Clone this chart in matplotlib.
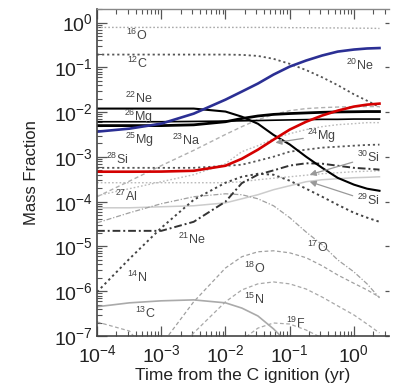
import matplotlib
matplotlib.use('Agg')
import matplotlib.pyplot as plt
from matplotlib.ticker import LogLocator, NullFormatter

plt.rcParams['font.family'] = ['Liberation Sans', 'DejaVu Sans']
plt.rcParams['mathtext.fontset'] = 'custom'
plt.rcParams['mathtext.rm'] = 'Liberation Sans'
plt.rcParams['mathtext.it'] = 'Liberation Sans:italic'
plt.rcParams['mathtext.bf'] = 'Liberation Sans:bold'

# time grid (yr) shared by most species
t = [1e-4, 3.2e-4, 1e-3, 3.2e-3, 0.01, 0.018, 0.032, 0.056, 0.1, 0.18, 0.32, 0.56, 1.0, 1.6, 2.5]

o16 = [0.78, 0.78, 0.78, 0.78, 0.78, 0.78, 0.78, 0.78, 0.77, 0.77, 0.76, 0.76, 0.75, 0.75, 0.74]
c12 = [0.193, 0.193, 0.193, 0.193, 0.193, 0.19, 0.18, 0.155, 0.12, 0.087, 0.06, 0.04, 0.025, 0.018, 0.013]
ne20 = [0.00366, 0.00428, 0.00553, 0.00925, 0.019, 0.0288, 0.0435, 0.069, 0.104, 0.142, 0.184, 0.225, 0.25, 0.264, 0.27]
ne22 = [0.012, 0.012, 0.012, 0.012, 0.0103, 0.0079, 0.0055, 0.0031, 0.0019, 0.00101, 5.7e-4, 3.4e-4, 2.4e-4, 1.95e-4, 1.75e-4]
mg26 = [0.0061, 0.0061, 0.0061, 0.0062, 0.0063, 0.0064, 0.0065, 0.0066, 0.0067, 0.0068, 0.0069, 0.0069, 0.007, 0.007, 0.007]
mg25 = [0.005, 0.005, 0.005, 0.0052, 0.0061, 0.0072, 0.0082, 0.0089, 0.0093, 0.0096, 0.0099, 0.0101, 0.0102, 0.0103, 0.0103]
mg24 = [4.67e-4, 4.67e-4, 4.7e-4, 4.9e-4, 6.35e-4, 9.1e-4, 1.45e-3, 2.43e-3, 4.07e-3, 6.1e-3, 8.4e-3, 0.0108, 0.0133, 0.0147, 0.0155]
si28 = [5.7e-4, 5.7e-4, 5.7e-4, 5.7e-4, 6.3e-4, 6.7e-4, 8.2e-4, 1.01e-3, 1.31e-3, 1.45e-3, 1.61e-3, 1.69e-3, 1.78e-3, 1.85e-3, 1.88e-3]
na23 = [1.29e-4, 2.88e-4, 6.38e-4, 1.4e-3, 3.17e-3, 4.74e-3, 6.8e-3, 8.8e-3, 0.0108, 0.012, 0.0126, 0.013, 0.0133, 0.0133, 0.0133]
al27 = [1.36e-4, 1.95e-4, 2.79e-4, 4.0e-4, 7.05e-4, 1.31e-3, 1.78e-3, 2.55e-3, 3.3e-3, 4.07e-3, 4.74e-3, 5.25e-3, 5.53e-3, 5.82e-3, 5.82e-3]
si29 = [7.3e-5, 7.3e-5, 7.7e-5, 8.1e-5, 9.4e-5, 1.16e-4, 1.43e-4, 1.85e-4, 2.27e-4, 2.79e-4, 3.09e-4, 3.25e-4, 3.43e-4, 3.5e-4, 3.6e-4]
si30 = [2.65e-4, 2.65e-4, 2.65e-4, 2.65e-4, 2.65e-4, 2.79e-4, 3.09e-4, 3.34e-4, 3.6e-4, 3.9e-4, 4.21e-4, 4.43e-4, 4.67e-4, 4.79e-4, 4.91e-4]
n14 = [9.6e-7, 5.3e-6, 2.6e-5, 1.1e-4, 2.65e-4, 3.6e-4, 4.2e-4, 4.0e-4, 2.94e-4, 1.95e-4, 1.29e-4, 8.5e-5, 5.65e-5, 4.4e-5, 3.55e-5]
ne21 = [2.23e-5, 2.23e-5, 2.23e-5, 3.55e-5, 1.0e-4, 2.6e-4, 4.0e-4, 5.0e-4, 6.4e-4, 7.2e-4, 7.05e-4, 6.35e-4, 5.7e-4, 5.45e-4, 5.2e-4]
o17 = [3.37e-5, 5.65e-5, 9.0e-5, 1.29e-4, 1.5e-4, 1.43e-4, 1.16e-4, 8.1e-5, 4.4e-5, 2.1e-5, 1.09e-5, 5.0e-6, 2.7e-6, 1.46e-6, 7.1e-7]
n15 = [2.06e-7, 1.29e-7, 1.7e-8, 1.17e-7, 5.8e-7, 1.07e-6, 1.46e-6, 1.61e-6, 1.46e-6, 1.12e-6, 7.4e-7, 4.7e-7, 2.95e-7, 1.85e-7, 1.17e-7]

t_o18 = [1e-3, 3.2e-3, 0.01, 0.018, 0.032, 0.056, 0.1, 0.18, 0.32, 0.56, 1.0, 1.6, 2.5]
o18 = [6.3e-8, 5.8e-7, 3.3e-6, 5.9e-6, 7.6e-6, 8.0e-6, 7.2e-6, 5.6e-6, 3.7e-6, 2.3e-6, 1.5e-6, 1.07e-6, 7.4e-7]
t_c13 = [1e-4, 3.2e-4, 1e-3, 3.2e-3, 0.01, 0.018, 0.032, 0.056, 0.1]
c13 = [4.5e-7, 5.5e-7, 6.1e-7, 6.4e-7, 5.5e-7, 4.2e-7, 2.8e-7, 1.44e-7, 6.3e-8]
t_f19 = [0.01, 0.018, 0.032, 0.056, 0.1, 0.18, 0.32, 0.56]
f19 = [2.9e-8, 8.1e-8, 1.5e-7, 1.95e-7, 1.85e-7, 1.36e-7, 9.0e-8, 4.9e-8]

fig = plt.figure(figsize=(3.96, 3.91), dpi=100)
ax = fig.add_axes([0.245, 0.1407, 0.737, 0.836])

# faint / gray species
ax.plot(t, o16, color='#aaaaaa', lw=1.0, ls=(0, (1.2, 1.5)))
ax.plot(t, c12, color='#555555', lw=1.3, ls=(0, (1.2, 1.6)))
ax.plot(t, na23, color='#b0b0b0', lw=1.0, ls=(0, (3, 2)))
ax.plot(t, al27, color='#bbbbbb', lw=1.0, ls=(0, (1.2, 1.5)))
ax.plot(t, si30, color='#bbbbbb', lw=1.0, ls=(0, (1.2, 1.5)))
ax.plot(t, si29, color='#cccccc', lw=1.1)
ax.plot(t, o17, color='#a0a0a0', lw=0.9, ls=(0, (4, 1.5, 1, 1.5)))
ax.plot(t_o18, o18, color='#a0a0a0', lw=0.9, ls=(0, (3, 2)))
ax.plot(t, n15, color='#a8a8a8', lw=0.9, ls=(0, (3, 2)))
ax.plot(t_c13, c13, color='#aaaaaa', lw=1.2)
ax.plot(t_f19, f19, color='#aaaaaa', lw=0.9, ls=(0, (3, 2)))
ax.plot(t, si28, color='#555555', lw=1.3, ls=(0, (1.2, 1.6)))
ax.plot(t, n14, color='#444444', lw=1.4, ls=(0, (1.2, 1.6)))
ax.plot(t, ne21, color='#333333', lw=1.4, ls=(0, (4, 1.5, 1, 1.5)))

# main species
ax.plot(t, mg26, color='black', lw=1.2)
ax.plot(t, mg25, color='black', lw=2.0)
ax.plot(t, ne22, color='black', lw=1.5)
ax.plot(t, mg24, color='#d40000', lw=1.9)
ax.plot(t, ne20, color='#2b2f94', lw=1.9)

ax.set_xscale('log')
ax.set_yscale('log')
ax.set_xlim(1e-4, 3.5)
ax.set_ylim(1e-7, 2)

# labels on curves
lab = dict(fontsize=9, color='#444444', ha='center', va='center')
ax.text(4.2e-4, 0.51, r'$^{16}$O', **lab)
ax.text(4.2e-4, 0.12, r'$^{12}$C', **lab)
ax.text(4.5e-4, 0.02, r'$^{22}$Ne', **lab)
ax.text(4.4e-4, 7.9e-3, r'$^{26}$Mg', **lab)
ax.text(4.5e-4, 2.4e-3, r'$^{25}$Mg', **lab)
ax.text(2.45e-3, 2.3e-3, r'$^{23}$Na', **lab)
ax.text(2.05e-4, 8.6e-4, r'$^{28}$Si', **lab)
ax.text(2.84e-4, 1.29e-4, r'$^{27}$Al', **lab)
ax.text(2.94e-3, 1.41e-5, r'$^{21}$Ne', **lab)
ax.text(4.2e-4, 1.99e-6, r'$^{14}$N', **lab)
ax.text(5.6e-4, 3.27e-7, r'$^{13}$C', **lab)
ax.text(0.274, 9.3e-6, r'$^{17}$O', **lab)
ax.text(0.0284, 3.3e-6, r'$^{18}$O', **lab)
ax.text(0.0284, 6.7e-7, r'$^{15}$N', **lab)
ax.text(0.124, 1.95e-7, r'$^{19}$F', **lab)
ax.text(1.24, 0.11, r'$^{20}$Ne', **lab)

arr = dict(arrowstyle='-|>', color='#999999', lw=0.9, mutation_scale=9, shrinkA=1, shrinkB=0)
ax.annotate(r'$^{24}$Mg', xy=(0.060, 2.08e-3), xytext=(0.316, 3.0e-3), arrowprops=arr, **lab)
ax.annotate(r'$^{30}$Si', xy=(0.205, 4.0e-4), xytext=(1.66, 9.6e-4), arrowprops=arr, **lab)
ax.annotate(r'$^{29}$Si', xy=(0.205, 2.79e-4), xytext=(1.66, 1.05e-4), arrowprops=arr, **lab)

ax.set_xlabel('Time from the C ignition (yr)', fontsize=12.5, color='#222222', labelpad=1)
ax.set_ylabel('Mass Fraction', fontsize=12, color='#222222', labelpad=11)

ax.xaxis.set_major_locator(LogLocator(base=10, numticks=10))
ax.xaxis.set_minor_locator(LogLocator(base=10, subs=range(2, 10), numticks=20))
ax.yaxis.set_major_locator(LogLocator(base=10, numticks=10))
ax.yaxis.set_minor_locator(LogLocator(base=10, subs=range(2, 10), numticks=20))
ax.xaxis.set_minor_formatter(NullFormatter())
ax.yaxis.set_minor_formatter(NullFormatter())

ax.tick_params(which='major', direction='in', length=7, width=0.9, color='#555555',
               labelsize=14, labelcolor='#222222', top=True, right=True)
ax.tick_params(which='minor', direction='in', length=3.5, width=0.8, color='#555555',
               top=True, right=False)
ax.tick_params(axis='y', which='major', pad=3)
ax.tick_params(axis='x', which='major', pad=6)
for tk in ax.yaxis.get_major_ticks():
    tk.tick2line.set_markersize(3)

ax.spines['right'].set_visible(False)
for s in ['left', 'bottom']:
    ax.spines[s].set_color('#444444')
    ax.spines[s].set_linewidth(1.2)
ax.spines['top'].set_color('#888888')
ax.spines['top'].set_linewidth(1.0)

fig.savefig('out.png', dpi=100)
